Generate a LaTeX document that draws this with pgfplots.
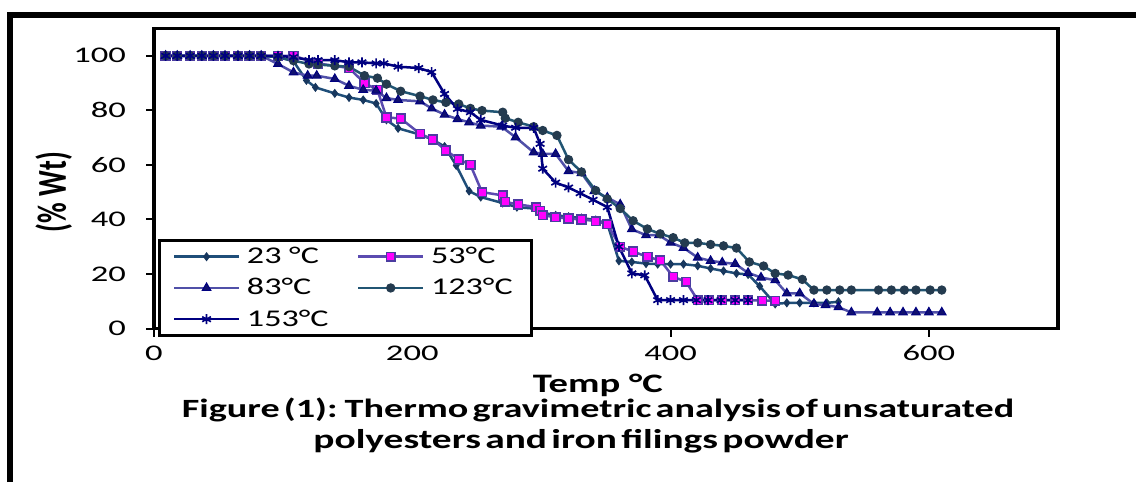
\documentclass[border=0pt]{standalone}
\usepackage{fontspec}
\setmainfont{Carlito}
\newfontfamily\tickfont[FakeStretch=1.55]{Carlito}
\newfontfamily\legfont[FakeStretch=1.42]{Carlito}
\newfontfamily\capfont[FakeStretch=1.45]{Carlito}
\usepackage{graphicx}
\usepackage{pgfplots}
\pgfplotsset{compat=1.18}
\definecolor{l23}{HTML}{1F4E79}
\definecolor{f23}{HTML}{17375E}
\definecolor{l53}{HTML}{5B4BB0}
\definecolor{d53}{HTML}{4B3CA0}
\definecolor{f53}{HTML}{FF00FF}
\definecolor{l83}{HTML}{5050A8}
\definecolor{f83}{HTML}{10106E}
\definecolor{l123}{HTML}{215573}
\definecolor{f123}{HTML}{243B4F}
\definecolor{l153}{HTML}{000080}
\begin{document}
\begin{tikzpicture}
\useasboundingbox (0,0) rectangle (681.6pt,289.2pt);
\fill[white] (0,0) rectangle (681.6pt,289.2pt);
\draw[line width=3.6pt, line join=miter] (6pt,0pt) -- (6pt,280.2pt) -- (681.6pt,280.2pt);
\begin{axis}[
  at={(92.4pt,92.1pt)}, anchor=south west,
  width=542.4pt, height=180pt, scale only axis,
  xmin=0, xmax=700, ymin=0, ymax=110,
  xtick={0,200,400,600}, ytick={0,20,40,60,80,100},
  tick align=outside, xtick pos=bottom, ytick pos=left,
  major tick length=4.8pt,
  every tick/.style={black, line width=1.2pt},
  axis line style={line width=2pt},
  /pgf/number format/assume math mode=true,
  ticklabel style={font=\tickfont\fontsize{13.4pt}{15pt}\selectfont},
  yticklabel style={xshift=-8.5pt},
  xticklabel style={yshift=-2pt},
  xlabel={\capfont\bfseries Temp °C},
  xlabel style={at={(rel axis cs:0.491,-0.19)}, anchor=center, font=\fontsize{16pt}{18pt}\selectfont},
  ylabel={\scalebox{1}[1.45]{\bfseries (\% Wt)}},
  ylabel style={at={(rel axis cs:-0.111,0.455)}, anchor=center, font=\fontsize{17pt}{19pt}\selectfont},
  legend columns=2,
  legend cell align=left,
  legend style={at={(rel axis cs:0.0044,0.298)}, anchor=north west, draw=black, line width=1.8pt, fill=white,
    font=\legfont\fontsize{14.4pt}{16pt}\selectfont, row sep=3.4pt, inner xsep=8pt,
    /tikz/every odd column/.append style={column sep=2pt},
    /tikz/every even column/.append style={column sep=4pt}},
  legend image code/.code={\draw[mark repeat=2,mark phase=2,#1] plot coordinates {(0pt,0pt) (19.5pt,0pt) (39pt,0pt)};},
]
\addplot[color=l23, line width=1.5pt, mark=diamond*, mark size=2.3pt, mark options={fill=f23, draw=f23, line width=0.6pt}] coordinates {
(9,100)(18,100)(28,100)(37,100)(46,100)(55,100)(65,100)(74,100)(83,100)(96,99.5)(108,98)(118,91)(125,88.4)(140,86.2)(151,84.7)(162,83.8)(172,82.5)(180,76.5)(189,73.4)(206,71.1)(216,69.2)(225,66.7)(234,59.8)(244,50.4)(253,48.2)(270,46)(281,44.5)(296,43.9)(301,42.5)(311,41.5)(321,41)(331,40.5)(342,39.8)(351,38.5)(360,24.8)(370,24.4)(381,23.8)(390,23.6)(400,23.6)(410,23.6)(421,23)(431,22)(441,21.1)(451,20.2)(460,19.8)(469,15.5)(481,9)(490,9.4)(500,9.4)(511,9.4)(521,9.4)(530,9.8)};
\addlegendentry{\makebox[60pt][l]{23 °C}}
\addplot[color=l53, line width=1.5pt, mark=square*, mark size=2.6pt, mark options={fill=f53, draw=d53, line width=1pt}] coordinates {
(9,100)(18,100)(28,100)(37,100)(46,100)(55,100)(65,100)(74,100)(83,100)(96,100)(108,100)(127,97.2)(151,95.5)(163,90)(173,87.5)(180,77.4)(191,77)(206,71.4)(216,69.3)(226,65.3)(236,62)(245,60)(254,50)(270,48.8)(272,46.4)(282,45.5)(296,44.5)(299,43.1)(301,41.5)(311,40.8)(321,40.3)(331,40)(342,39.4)(351,38.3)(361,30)(371,28.2)(382,26.3)(392,25)(402,19)(412,17.1)(421,10.4)(430,10.4)(440,10.4)(450,10.4)(460,10.4)(471,10.2)(481,10.2)};
\addlegendentry{\makebox[50pt][l]{53°C}}
\addplot[color=l83, line width=1.5pt, mark=triangle*, mark size=3pt, mark options={fill=f83, draw=l153, line width=0.6pt}] coordinates {
(9,100)(18,100)(28,100)(37,100)(46,100)(55,100)(65,100)(74,100)(83,100)(96,97)(108,93.9)(119,92.7)(126,92.7)(140,91.5)(151,89)(162,87.5)(172,87.2)(180,84.5)(189,83.8)(206,83.3)(215,80.7)(225,78.4)(235,76.8)(244,75.6)(253,74.4)(269,74)(280,70.1)(294,64.6)(301,64)(311,64)(321,57.7)(331,57)(341,50.4)(351,48)(361,45.5)(370,36.4)(381,34.2)(391,34.2)(400,31.5)(410,29.6)(421,26)(431,24.8)(440,24.2)(450,23.7)(460,20.4)(470,18.7)(481,17.7)(490,12.9)(500,12.9)(511,9)(520,8.6)(530,7.8)(540,5.9)(560,5.9)(570,5.9)(580,5.9)(590,5.9)(600,5.9)(610,5.9)};
\addlegendentry{83°C}
\addplot[color=l123, line width=1.5pt, mark=*, mark size=2.5pt, mark options={fill=f123, draw=f123, line width=0.6pt}] coordinates {
(9,100)(18,100)(28,100)(37,100)(46,100)(55,100)(65,100)(74,100)(83,100)(96,99.5)(108,98.2)(120,97)(127,96.8)(140,96.3)(151,96)(163,92.7)(173,91.8)(180,89.6)(191,87)(206,85.2)(216,83.8)(226,82.9)(236,82.3)(245,80.7)(254,79.9)(270,79.3)(272,77.1)(282,75.6)(294,74)(301,72.6)(312,70.8)(321,61.9)(331,57.4)(342,50.6)(351,47.5)(361,44)(371,39.5)(382,36.5)(392,34.7)(402,33.3)(411,31.4)(421,31.4)(431,30.8)(441,30.3)(451,29.5)(461,24.4)(472,22.9)(481,20.2)(491,19.6)(502,18)(511,14.1)(521,14.1)(531,14.1)(540,14.1)(561,14.1)(571,14.1)(581,14.1)(590,14.1)(601,14.1)(610,14.1)};
\addlegendentry{123°C}
\addplot[color=l153, line width=1.5pt, mark=asterisk, mark size=3pt, mark options={draw=l153, line width=1pt}] coordinates {
(9,100)(18,100)(28,100)(37,100)(46,100)(55,100)(65,100)(74,100)(83,100)(96,100)(108,99.5)(120,98.4)(127,98.4)(140,98.4)(151,97.6)(161,97.6)(172,97.2)(178,97.2)(189,96)(205,95.5)(215,94)(225,86)(235,80.5)(245,79.3)(253,76.5)(270,74.4)(280,73.6)(294,73.6)(299,67.7)(301,58.6)(311,53.5)(321,51.7)(330,49.6)(340,47.2)(351,44.5)(360,30)(370,20.2)(380,19.5)(390,10.4)(400,10.4)(410,10.4)(420,10.4)(429,10.4)(439,10.4)(450,10.4)(460,10.4)};
\addlegendentry{153°C}
\end{axis}
\node[font=\capfont\bfseries\fontsize{15.8pt}{17pt}\selectfont, anchor=center] at (358.8pt,43.2pt) {\spaceskip=0.16em\relax Figure (1): Thermo gravimetric analysis of unsaturated};
\node[font=\capfont\bfseries\fontsize{16.3pt}{18pt}\selectfont, anchor=center] at (348.6pt,24.6pt) {\spaceskip=0.16em\relax polyesters and iron filings powder};
\end{tikzpicture}
\end{document}
